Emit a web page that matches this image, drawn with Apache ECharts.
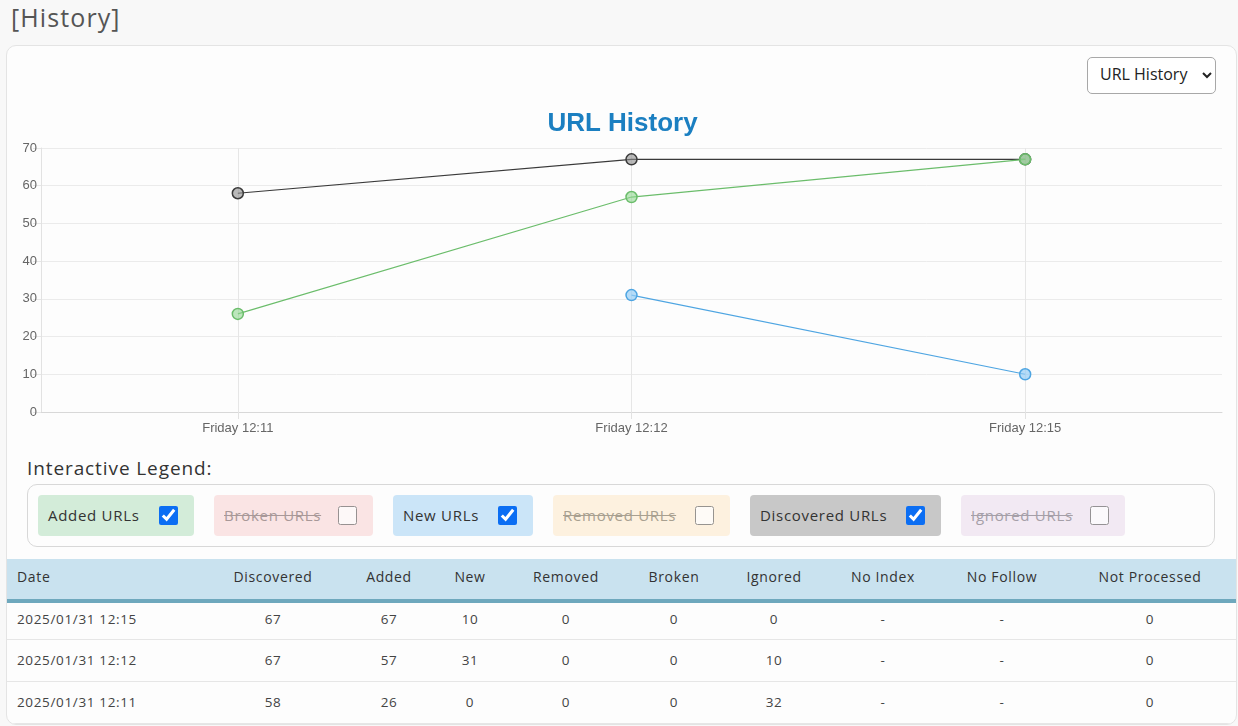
<!DOCTYPE html>
<html>
<head>
<meta charset="utf-8">
<script src="https://cdn.jsdelivr.net/npm/echarts@6/dist/echarts.min.js"></script>
<style>
  html, body { margin:0; padding:0; }
  body { width:1238px; height:726px; background:#f8f8f8; font-family:"Open Sans", "Noto Sans", sans-serif; color:#333; position:relative; overflow:hidden; }
  #pageTitle { position:absolute; left:11px; top:0px; font-size:25px; color:#555; font-weight:400; letter-spacing:1.1px; }
  #card { position:absolute; left:6px; top:45px; width:1229px; height:678px; background:#fdfdfd; border:1px solid #e4e4e4; border-radius:10px; overflow:hidden; }
  #chart { position:absolute; left:0px; top:50px; width:1231px; height:350px; }
  #sel { position:absolute; left:1080px; top:11px; width:129px; height:37px; box-sizing:border-box; border:1px solid #a8a8a8; border-radius:5px; background:#fff; font-family:"Open Sans", sans-serif; font-size:16px; color:#222; padding:0 8px 3px 8px; }
  #legLabel { position:absolute; left:20px; top:409px; font-size:19px; color:#333; letter-spacing:0.9px; }
  #legBox { position:absolute; left:20px; top:438px; width:1188px; height:63px; border:1px solid #d8d8d8; border-radius:10px; box-sizing:border-box; }
  .li { position:absolute; top:10px; height:41px; border-radius:4px; font-size:15px; letter-spacing:0.7px; display:flex; align-items:center; box-sizing:border-box; padding-left:10px; padding-bottom:2px; }
  .li span { white-space:nowrap; }
  .li input { width:19px; height:19px; margin:0; position:absolute; top:11px; accent-color:#0b6ef3; }
  .off span { text-decoration:line-through; }
  #tbl { position:absolute; left:0; top:513px; width:1231px; border-collapse:collapse; table-layout:fixed; font-size:14px; letter-spacing:0.65px; }
  #tbl th { background:#c9e2ef; height:42px; box-sizing:border-box; font-weight:400; color:#333; border-bottom:4px solid #6ea8bd; padding:0 0 5px 0; line-height:18px; }
  #tbl td { height:41px; border-bottom:1px solid #e6e6e6; color:#444; padding:0; text-align:center; font-size:13.5px; line-height:18px; }
  #tbl tr.r0 td { height:38px; padding-bottom:4px; box-sizing:border-box; }
  #tbl .c0 { text-align:left; padding-left:10px; }
</style>
</head>
<body>
<div id="pageTitle">[History]</div>
<div id="card">
  <div id="chart"></div>
  <select id="sel"><option>URL History</option></select>
  <div id="legLabel">Interactive Legend:</div>
  <div id="legBox"></div>
  <table id="tbl"></table>
</div>
<script>
// ---- data ----
const categories = ["Friday 12:11", "Friday 12:12", "Friday 12:15"];
const discovered = [58, 67, 67];
const added = [26, 57, 67];
const newChart = [null, 31, 10];
const yTicks = [0, 10, 20, 30, 40, 50, 60, 70];

const tableDates = ["2025/01/31 12:15", "2025/01/31 12:12", "2025/01/31 12:11"];
const tDiscovered = [67, 67, 58];
const tAdded = [67, 57, 26];
const tNew = [10, 31, 0];
const tRemoved = [0, 0, 0];
const tBroken = [0, 0, 0];
const tIgnored = [0, 10, 32];
const tNoIndex = ["-", "-", "-"];
const tNoFollow = ["-", "-", "-"];
const tNotProcessed = [0, 0, 0];
const tableHeaders = ["Date", "Discovered", "Added", "New", "Removed", "Broken", "Ignored", "No Index", "No Follow", "Not Processed"];

const legendItems = [
  { name: "Added URLs", on: true },
  { name: "Broken URLs", on: false },
  { name: "New URLs", on: true },
  { name: "Removed URLs", on: false },
  { name: "Discovered URLs", on: true },
  { name: "Ignored URLs", on: false }
];

// ---- chart ----
const chart = echarts.init(document.getElementById('chart'), null, { renderer: 'canvas' });
const axisFont = { fontFamily: 'Liberation Sans, Arial, sans-serif', fontSize: 13, color: '#666' };
function ser(name, data, line, fill, z) {
  return {
    name, type: 'line', data, z,
    symbol: 'circle', symbolSize: 11, showSymbol: true,
    lineStyle: { color: line, width: 1.2 },
    itemStyle: { color: fill, borderColor: line, borderWidth: 1.5 },
    emphasis: { disabled: true },
    connectNulls: false
  };
}
chart.setOption({
  animation: false,
  title: {
    text: 'URL History', left: 'center', top: 10,
    textStyle: { fontFamily: 'Liberation Sans, Arial, sans-serif', fontSize: 26, fontWeight: 'bold', color: '#1b7fc1' }
  },
  grid: { left: 34, right: 16, top: 52, bottom: 34 },
  xAxis: {
    type: 'category', data: categories, boundaryGap: true,
    axisLine: { show: true, lineStyle: { color: '#d8d8d8' } },
    axisTick: { show: true, alignWithLabel: true, length: 7, lineStyle: { color: '#e2e2e2' } },
    axisLabel: Object.assign({ margin: 10 }, axisFont),
    splitLine: { show: true, alignWithLabel: true, lineStyle: { color: '#e6e6e6' } }
  },
  yAxis: {
    type: 'value', min: yTicks[0], max: yTicks[yTicks.length - 1], interval: 10,
    axisLine: { show: true, lineStyle: { color: '#e2e2e2' } },
    axisTick: { show: true, length: 8, lineStyle: { color: '#e6e6e6' } },
    axisLabel: Object.assign({ margin: 4 }, axisFont),
    splitLine: { show: true, lineStyle: { color: '#ebebeb' } }
  },
  series: [
    ser('Discovered URLs', discovered, '#3a3a3a', 'rgba(140,140,140,0.6)', 2),
    ser('New URLs', newChart, '#4ea5e2', 'rgba(150,205,245,0.7)', 3),
    ser('Added URLs', added, '#6bbd6b', 'rgba(145,215,145,0.6)', 4)
  ]
});

// ---- legend (HTML) ----
const legStyles = {
  "Added URLs":      { left: 10,  width: 156, bg: '#d3ecd9', color: '#333' },
  "Broken URLs":     { left: 186, width: 159, bg: '#fae4e4', color: '#a89898' },
  "New URLs":        { left: 365, width: 140, bg: '#cbe5f8', color: '#333' },
  "Removed URLs":    { left: 525, width: 177, bg: '#fdf1df', color: '#a8a090' },
  "Discovered URLs": { left: 722, width: 191, bg: '#c8c8c8', color: '#333' },
  "Ignored URLs":    { left: 933, width: 164, bg: '#f2e9f3', color: '#a59fa8' }
};
const legBox = document.getElementById('legBox');
legendItems.forEach(it => {
  const s = legStyles[it.name];
  const d = document.createElement('div');
  d.className = 'li' + (it.on ? '' : ' off');
  d.style.left = s.left + 'px'; d.style.width = s.width + 'px';
  d.style.background = s.bg; d.style.color = s.color;
  const sp = document.createElement('span'); sp.textContent = it.name;
  const cb = document.createElement('input'); cb.type = 'checkbox'; cb.checked = it.on;
  cb.style.left = (s.width - 35) + 'px';
  if (!it.on) cb.style.opacity = '0.75';
  d.appendChild(sp); d.appendChild(cb);
  legBox.appendChild(d);
});

// ---- table ----
const colWidths = [208, 116, 116, 46, 146, 70, 130, 88, 150, 161];
const tbl = document.getElementById('tbl');
let html = '<colgroup>' + colWidths.map(w => '<col style="width:' + w + 'px">').join('') + '</colgroup><tr>';
tableHeaders.forEach((h, i) => {
  const extra = i === 9 ? ' style="padding-right:15px"' : '';
  html += '<th class="c' + i + '"' + extra + '>' + h + '</th>';
});
html += '</tr>';
const cols = [tableDates, tDiscovered, tAdded, tNew, tRemoved, tBroken, tIgnored, tNoIndex, tNoFollow, tNotProcessed];
for (let r = 0; r < tableDates.length; r++) {
  html += '<tr class="r' + r + '">';
  cols.forEach((c, i) => {
    const extra = i === 9 ? ' style="padding-right:15px"' : '';
    html += '<td class="c' + i + '"' + extra + '>' + c[r] + '</td>';
  });
  html += '</tr>';
}
tbl.innerHTML = html;
</script>
</body>
</html>
